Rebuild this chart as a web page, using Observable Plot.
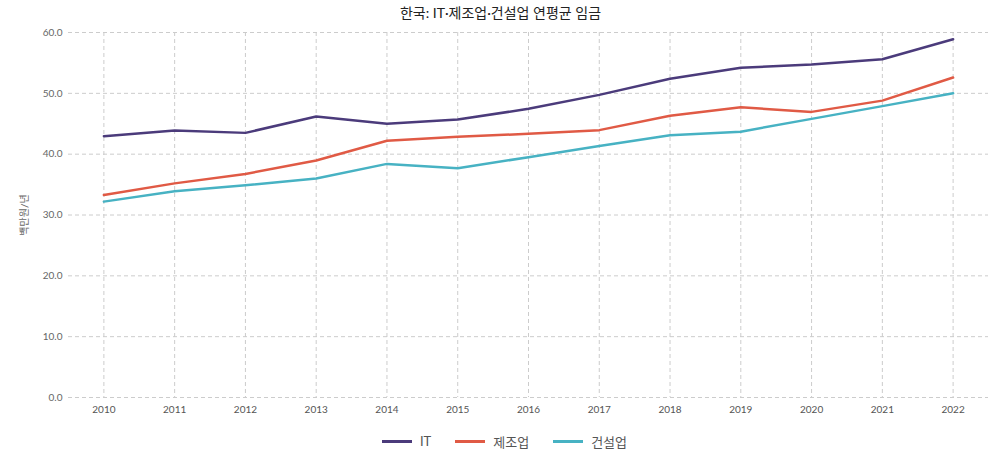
<!DOCTYPE html>
<html>
<head>
<meta charset="utf-8">
<script src="https://cdn.jsdelivr.net/npm/d3@7"></script>
<script src="https://cdn.jsdelivr.net/npm/@observablehq/plot@0.6"></script>
<style>
  body { margin: 0; background: #fff; font-family: Lato, "Noto Sans CJK KR", sans-serif; }
  #title { height: 26px; line-height: 26px; text-align: center; font-size: 14px; color: #222; font-family: Lato, "Noto Sans CJK KR", sans-serif; }
  #legend { display: flex; justify-content: center; align-items: center; height: 30px; margin-top: 0px; padding-left: 8px; font-size: 13px; color: #555; }
  .item { display: flex; align-items: center; margin: 0 12px; }
  .sw { width: 30px; height: 3px; margin-right: 8px; }
</style>
</head>
<body>
<div id="title">한국: IT·제조업·건설업 연평균 임금</div>
<div id="chart"></div>
<div id="legend"></div>
<script>
const years = [2010, 2011, 2012, 2013, 2014, 2015, 2016, 2017, 2018, 2019, 2020, 2021, 2022];
const seriesNames = ["IT", "제조업", "건설업"];
const itValues = [42.95, 43.9, 43.5, 46.2, 45.0, 45.7, 47.45, 49.75, 52.4, 54.2, 54.75, 55.6, 58.9];
const mfgValues = [33.3, 35.2, 36.75, 38.95, 42.2, 42.85, 43.35, 43.95, 46.3, 47.7, 46.95, 48.8, 52.6];
const conValues = [32.2, 33.9, 34.9, 36.0, 38.4, 37.7, 39.5, 41.35, 43.1, 43.7, 45.8, 47.9, 50.0];
const yTicks = [0, 10, 20, 30, 40, 50, 60];
const colors = ["#4b3b7b", "#e05a45", "#47b2c3"];

const allSeries = [itValues, mfgValues, conValues];
const data = [];
seriesNames.forEach((name, i) => {
  years.forEach((yr, j) => data.push({ year: yr, value: allSeries[i][j], series: name }));
});

const chart = Plot.plot({
  width: 1001,
  height: 400,
  marginTop: 6,
  marginBottom: 29,
  marginLeft: 68,
  marginRight: 13,
  style: { fontFamily: 'Lato, "Noto Sans CJK KR", sans-serif', fontSize: "10px", color: "#555" },
  x: { type: "point", domain: years, padding: 0.5, round: false, label: null },
  y: { domain: [0, 60], label: null },
  color: { domain: seriesNames, range: colors },
  marks: [
    Plot.ruleY(yTicks, { stroke: "#ccc", strokeDasharray: "4,3", strokeWidth: 1 }),
    Plot.ruleX(years, { stroke: "#ccc", strokeDasharray: "4,3", strokeWidth: 1 }),
    Plot.axisX({ ticks: years, tickSize: 0, tickPadding: 8, tickFormat: d => String(d), label: null }),
    Plot.axisY({ ticks: yTicks, tickSize: 0, tickPadding: 6, tickFormat: d3.format(".1f"),
      label: "백만원/년", labelAnchor: "center", labelArrow: "none", labelOffset: 48, fill: "#666" }),
    Plot.line(data, { x: "year", y: "value", z: "series", stroke: "series", strokeWidth: 2.5 })
  ]
});
document.getElementById("chart").appendChild(chart);

const legend = document.getElementById("legend");
seriesNames.forEach((name, i) => {
  const item = document.createElement("div");
  item.className = "item";
  const sw = document.createElement("div");
  sw.className = "sw";
  sw.style.background = colors[i];
  const t = document.createElement("span");
  t.textContent = name;
  item.appendChild(sw);
  item.appendChild(t);
  legend.appendChild(item);
});
</script>
</body>
</html>
